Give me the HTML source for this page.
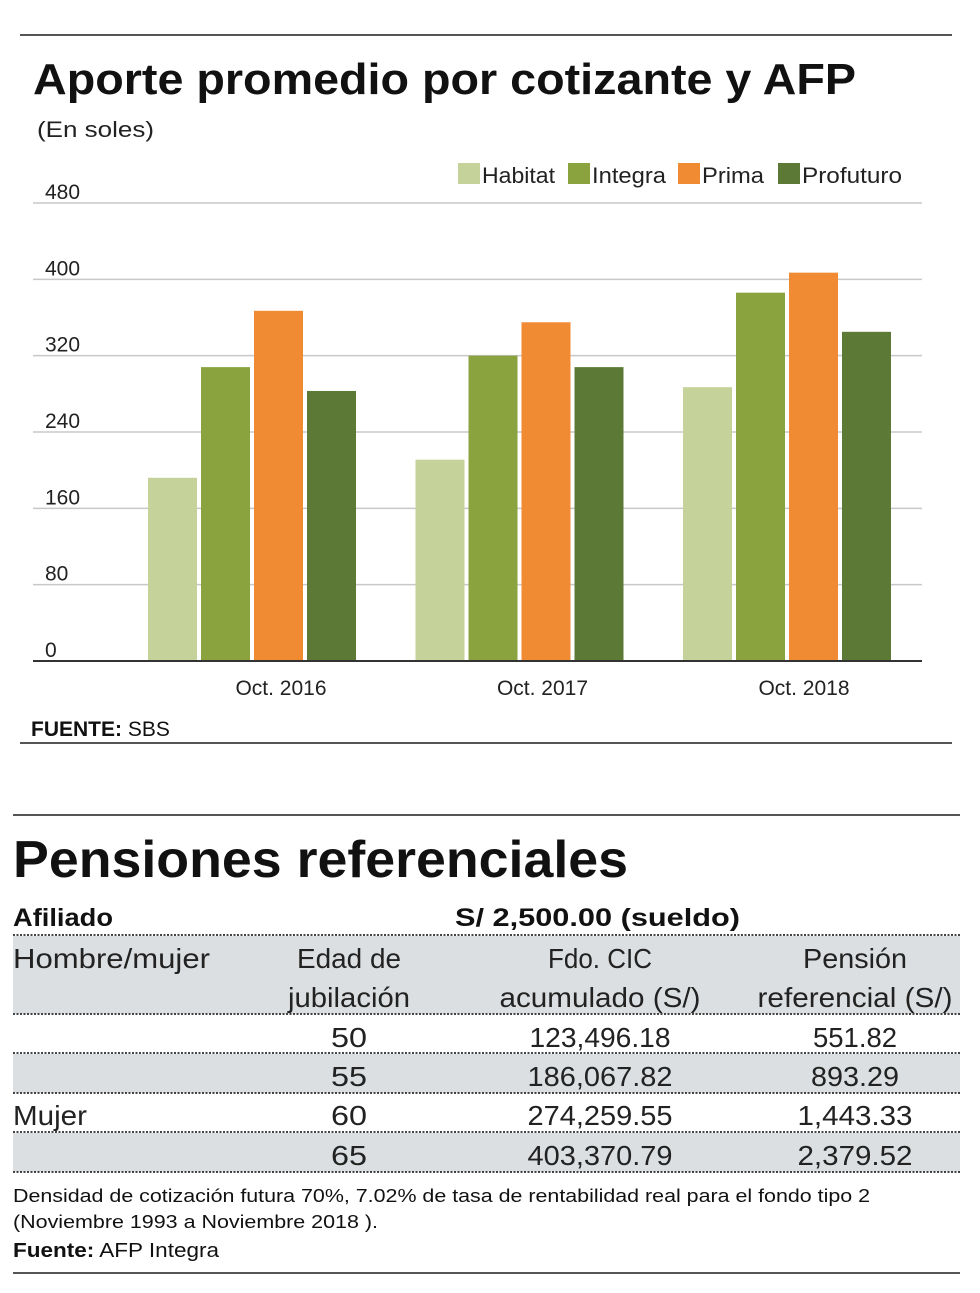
<!DOCTYPE html>
<html><head><meta charset="utf-8"><style>
html,body{margin:0;padding:0;background:#fff;}
svg{display:block;font-family:"Liberation Sans",sans-serif;}
</style></head><body>
<svg id="s" width="980" height="1293" viewBox="0 0 980 1293">
<line x1="20" y1="35" x2="952" y2="35" stroke="#555" stroke-width="2"/>
<text x="33" y="94" font-size="44" font-weight="bold" fill="#111" textLength="823" lengthAdjust="spacingAndGlyphs">Aporte promedio por cotizante y AFP</text>
<text x="37" y="137" font-size="22" fill="#222" textLength="117" lengthAdjust="spacingAndGlyphs">(En soles)</text>
<g id="grid"></g>
<g id="bars"></g>
<g id="legend"></g>
<line x1="33" y1="661" x2="922" y2="661" stroke="#333" stroke-width="2"/>
<text x="31" y="736" font-size="21" fill="#111"><tspan font-weight="bold">FUENTE:</tspan> SBS</text>
<line x1="20" y1="743" x2="952" y2="743" stroke="#555" stroke-width="2"/>

<line x1="13" y1="815" x2="960" y2="815" stroke="#555" stroke-width="2"/>
<text x="13" y="877" font-size="52" font-weight="bold" fill="#111" textLength="615" lengthAdjust="spacingAndGlyphs">Pensiones referenciales</text>
<text x="13" y="926" font-size="25" font-weight="bold" fill="#111" textLength="100" lengthAdjust="spacingAndGlyphs">Afiliado</text>
<text x="455" y="926" font-size="25" font-weight="bold" fill="#111" textLength="285" lengthAdjust="spacingAndGlyphs">S/ 2,500.00 (sueldo)</text>
<g id="table"></g>
<text x="13" y="1202" font-size="18" fill="#111" textLength="857" lengthAdjust="spacingAndGlyphs">Densidad de cotización futura 70%, 7.02% de tasa de rentabilidad real para el fondo tipo 2</text>
<text x="13" y="1228" font-size="18" fill="#111" textLength="365" lengthAdjust="spacingAndGlyphs">(Noviembre 1993 a Noviembre 2018 ).</text>
<text x="13" y="1257" font-size="20" fill="#111" textLength="206" lengthAdjust="spacingAndGlyphs"><tspan font-weight="bold">Fuente:</tspan> AFP Integra</text>
<line x1="13" y1="1273" x2="960" y2="1273" stroke="#555" stroke-width="2"/>
</svg>
<script>
const categories = ["Oct. 2016", "Oct. 2017", "Oct. 2018"];
const seriesNames = ["Habitat", "Integra", "Prima", "Profuturo"];
const habitat = [192, 211, 287];
const integra = [308, 320, 386];
const prima = [367, 355, 407];
const profuturo = [283, 308, 345];
const yTicks = [0, 80, 160, 240, 320, 400, 480];
const colors = ["#c5d29a", "#8aa33e", "#f08a33", "#5c7a35"];
const series = [habitat, integra, prima, profuturo];

const NS = "http://www.w3.org/2000/svg";
function mk(tag, attrs, parent, text){const e=document.createElementNS(NS,tag);for(const k in attrs)e.setAttribute(k,attrs[k]);if(text!==undefined)e.textContent=text;parent.appendChild(e);return e;}
const y0=661, y1=203, vmax=480;
function yScale(v){return y0-(v/vmax)*(y0-y1);}
const groupStart=148, groupStep=267.5, barW=49, barStep=53;
function xBar(ci,si){return groupStart+ci*groupStep+si*barStep;}

const grid=document.getElementById('grid');
yTicks.forEach(t=>{
  if(t>0){const l=mk('line',{x1:33,x2:922,y1:yScale(t),y2:yScale(t),stroke:'#c8c8c8','stroke-width':1.5},grid);
  
  }
  const tx=mk('text',{x:45,y:yScale(t)-4,'font-size':21,fill:'#222'},grid,String(t));
  
  
});
const bars=document.getElementById('bars');
categories.forEach((c,ci)=>{
  series.forEach((s,si)=>{
    const r=mk('rect',{x:xBar(ci,si),y:yScale(s[ci]),width:barW,height:y0-yScale(s[ci]),fill:colors[si]},bars);
    
    
  });
  const cx=281+ci*261.5;
  const t=mk('text',{x:cx,y:695,'font-size':21,fill:'#222','text-anchor':'middle'},bars,c);
  
  
});
const legend=document.getElementById('legend');
const lx=[458,568,678,778], lw=[73,74,62,100];
seriesNames.forEach((n,i)=>{
  const r=mk('rect',{x:lx[i],y:163,width:22,height:21,fill:colors[i]},legend);
  
  
  const t=mk('text',{x:lx[i]+24,y:183,'font-size':22,fill:'#222',textLength:lw[i],lengthAdjust:'spacingAndGlyphs'},legend,n);
  
  
});

// table
const tbl=document.getElementById('table');
[[936,1014],[1054,1093],[1133,1172]].forEach((b,i)=>{
  const r=mk('rect',{x:13,y:b[0],width:947,height:b[1]-b[0],fill:'#dcdfe1'},tbl);
  
  
});
[935,1014,1053,1093,1132,1172].forEach((y,i)=>{
  const l=mk('line',{x1:13,x2:960,y1:y,y2:y,stroke:'#444','stroke-width':2,'stroke-dasharray':'2 1.5'},tbl);
  
  
});
const cells=[
 [13,968,'start','Hombre/mujer',197],[349,968,'middle','Edad de',104],[600,968,'middle','Fdo. CIC',104],[855,968,'middle','Pensión',104],
 [349,1007,'middle','jubilación',122],[600,1007,'middle','acumulado (S/)',201],[855,1007,'middle','referencial (S/)',195],
 [349,1047,'middle','50',36],[600,1047,'middle','123,496.18',141],[855,1047,'middle','551.82',84],
 [349,1086,'middle','55',36],[600,1086,'middle','186,067.82',145],[855,1086,'middle','893.29',88],
 [13,1125,'start','Mujer',74],[349,1125,'middle','60',36],[600,1125,'middle','274,259.55',145],[855,1125,'middle','1,443.33',115],
 [349,1165,'middle','65',36],[600,1165,'middle','403,370.79',145],[855,1165,'middle','2,379.52',115]
];
cells.forEach((c,i)=>{
  const t=mk('text',{x:c[0],y:c[1],'font-size':28,fill:'#222','text-anchor':c[2],textLength:c[4],lengthAdjust:'spacingAndGlyphs'},tbl,c[3]);
  
  
});
</script>
</body></html>
